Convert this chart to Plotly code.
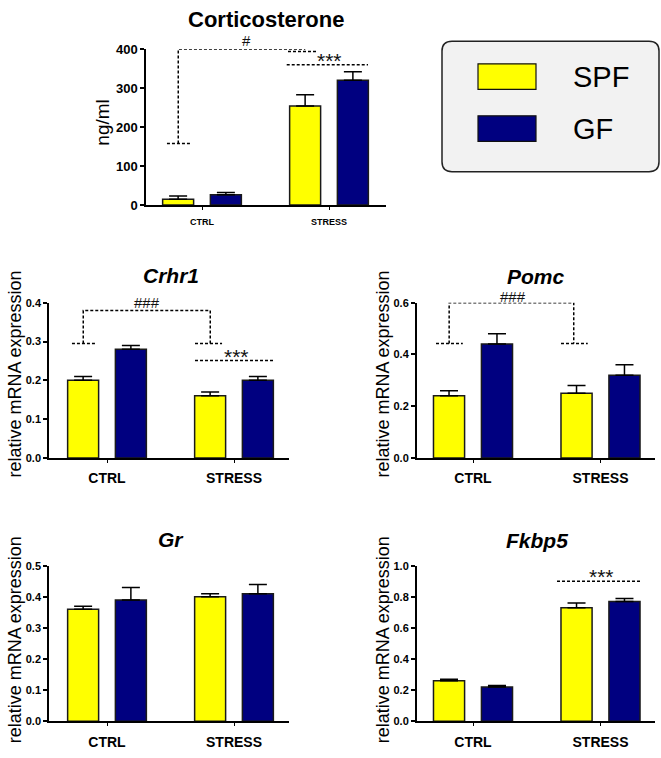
import plotly.graph_objects as go

W, H = 661, 758

categories = ["CTRL", "STRESS"]
groups = ["SPF", "GF"]
colors = ["#ffff00", "#000080"]

cort_spf = [15, 254]
cort_spf_err = [8, 29]
cort_gf = [26, 320]
cort_gf_err = [6, 22]

crhr1_spf = [0.20, 0.16]
crhr1_spf_err = [0.01, 0.01]
crhr1_gf = [0.28, 0.20]
crhr1_gf_err = [0.01, 0.01]

pomc_spf = [0.24, 0.25]
pomc_spf_err = [0.02, 0.03]
pomc_gf = [0.44, 0.32]
pomc_gf_err = [0.04, 0.04]

gr_spf = [0.36, 0.40]
gr_spf_err = [0.01, 0.01]
gr_gf = [0.39, 0.41]
gr_gf_err = [0.04, 0.03]

fkbp5_spf = [0.26, 0.73]
fkbp5_spf_err = [0.01, 0.03]
fkbp5_gf = [0.22, 0.77]
fkbp5_gf_err = [0.01, 0.02]

# significance marks: (label, x, y)
cort_marks = [("#", 0.35, 422), ("***", 1.0, 360)]
crhr1_marks = [("###", 0.315, 0.4), ("***", 1.02, 0.251)]
pomc_marks = [("###", 0.31, 0.625)]
fkbp5_marks = [("***", 1.01, 0.9)]


def px_x(x):
    return x / W


def px_y(y):
    return 1 - y / H


panels = [
    # title, spf, spf_err, gf, gf_err, x px, ctrl px, px/unit, y px, ymax, dtick, fmt, tick font, cat font, italic
    ("Corticosterone", cort_spf, cort_spf_err, cort_gf, cort_gf_err, (146, 386), 202, 127, (43, 202), 400, 100, "d", 13, 9, False),
    ("Crhr1", crhr1_spf, crhr1_spf_err, crhr1_gf, crhr1_gf_err, (49, 289), 107, 127, (301.7, 460), 0.4, 0.1, ".1f", 11, 14, True),
    ("Pomc", pomc_spf, pomc_spf_err, pomc_gf, pomc_gf_err, (416.7, 655), 473, 127.5, (301.7, 460), 0.6, 0.2, ".1f", 11, 14, True),
    ("Gr", gr_spf, gr_spf_err, gr_gf, gr_gf_err, (49, 289), 107, 127, (570, 728.7), 0.5, 0.1, ".1f", 11, 14, True),
    ("Fkbp5", fkbp5_spf, fkbp5_spf_err, fkbp5_gf, fkbp5_gf_err, (416.7, 655), 473, 127.5, (570, 728.7), 1.0, 0.2, ".1f", 11, 14, True),
]


def to_paper(idx, x, y):
    p = panels[idx]
    cpx, unit, yr, ymax = p[6], p[7], p[8], p[9]
    px = cpx + x * unit
    py = yr[1] - y / ymax * (yr[1] - yr[0])
    return px_x(px), px_y(py)


FONT = "Arial, Liberation Sans, sans-serif"
fig = go.Figure()
layout = {}
annotations = []
BAR_W = 0.244
offsets = [-0.31, 0.066]

for i, (title, spf, spf_err, gf, gf_err, xr, cpx, unit, yr, ymax, dtick, fmt, tfs, cfs, ital) in enumerate(panels):
    n = "" if i == 0 else str(i + 1)
    for g, (vals, errs) in enumerate([(spf, spf_err), (gf, gf_err)]):
        fig.add_trace(go.Bar(
            x=[0, 1], y=vals, name=groups[g], width=BAR_W, offset=offsets[g],
            marker=dict(color=colors[g], line=dict(color="#1a1a1a", width=1.5)),
            error_y=dict(type="data", symmetric=False, array=errs, arrayminus=[0, 0],
                         color="black", thickness=1.5, width=9),
            xaxis="x" + n, yaxis="y" + n, showlegend=False,
        ))
    layout["xaxis" + n] = dict(
        domain=[px_x(xr[0]), px_x(xr[1])], anchor="y" + n,
        range=[(xr[0] - cpx) / unit, (xr[1] - cpx) / unit],
        tickvals=[0, 1], ticktext=categories, showline=True, linecolor="black", linewidth=1.5,
        ticks="outside", ticklen=3, tickwidth=1, tickcolor="black", showgrid=False, zeroline=False,
        tickfont=dict(family=FONT, size=cfs, color="black", weight="bold"), ticklabelstandoff=4,
    )
    layout["yaxis" + n] = dict(
        domain=[px_y(yr[1]), px_y(yr[0])], anchor="x" + n, range=[0, ymax], dtick=dtick, tickformat=fmt,
        showline=True, linecolor="black", linewidth=1.5, ticks="outside", ticklen=4, tickwidth=1.5,
        tickcolor="black", showgrid=False, zeroline=False,
        tickfont=dict(family=FONT, size=tfs, color="black", weight="bold"),
    )

# titles
title_pos = [(266, 13, 22), (171, 274, 21), (536, 275, 21), (171, 543, 21), (537, 544, 21)]
for p, (cx, cy, fs) in zip(panels, title_pos):
    txt = "<b><i>%s</i></b>" % p[0] if p[-1] else "<b>%s</b>" % p[0]
    annotations.append(dict(text=txt, x=px_x(cx), y=px_y(cy), xref="paper", yref="paper",
                            showarrow=False, xanchor="center", yanchor="middle",
                            font=dict(family=FONT, size=fs, color="black")))

# y axis titles
ylab = [("ng/ml", 103, 118, 19), ("relative mRNA expression", 15, 375, 18),
        ("relative mRNA expression", 383, 375, 18), ("relative mRNA expression", 15, 646, 18),
        ("relative mRNA expression", 383, 646, 18)]
for t, cx, cy, fs in ylab:
    annotations.append(dict(text=t, x=px_x(cx), y=px_y(cy), xref="paper", yref="paper", textangle=-90,
                            showarrow=False, xanchor="center", yanchor="middle",
                            font=dict(family=FONT, size=fs, color="black")))

# dashed significance brackets
brackets = {
    "": [[(-0.187, 158), (-0.187, 400), (0.813, 400)], [(-0.276, 158), (-0.094, 158)],
         [(0.677, 394), (0.906, 394)], [(0.667, 360), (1.307, 360)]],
    "2": [[(-0.187, 0.295), (-0.187, 0.38), (0.813, 0.38), (0.813, 0.295)],
          [(-0.276, 0.295), (-0.094, 0.295)], [(0.693, 0.295), (0.906, 0.295)],
          [(0.693, 0.251), (1.307, 0.251)]],
    "3": [[(-0.187, 0.442), (-0.187, 0.6), (0.79, 0.6), (0.79, 0.442)],
          [(-0.29, 0.442), (-0.08, 0.442)], [(0.69, 0.442), (0.9, 0.442)]],
    "5": [[(0.659, 0.9), (1.31, 0.9)]],
}
for n, segs in brackets.items():
    xs, ys = [], []
    for seg in segs:
        xs += [p[0] for p in seg] + [None]
        ys += [p[1] for p in seg] + [None]
    fig.add_trace(go.Scatter(x=xs, y=ys, mode="lines", line=dict(color="black", width=1.5, dash="3px,2px"),
                             xaxis="x" + n, yaxis="y" + n, showlegend=False, hoverinfo="skip",
                             cliponaxis=False))

for idx, marks in [(0, cort_marks), (1, crhr1_marks), (2, pomc_marks), (4, fkbp5_marks)]:
    for label, x, y in marks:
        star = label.startswith("*")
        ax_, ay_ = to_paper(idx, x, y)
        annotations.append(dict(text=label, x=ax_, y=ay_, xref="paper", yref="paper", showarrow=False,
                                xanchor="center", yanchor="bottom" if star else "middle",
                                yshift=-9 if star else 0,
                                font=dict(family=FONT, size=21 if star else 15, color="#111")))

# legend box
r = 10
x0, x1, y0, y1 = 442, 659, 35, 168
path = (f"M {px_x(x0 + r)} {px_y(y0)} L {px_x(x1 - r)} {px_y(y0)} Q {px_x(x1)} {px_y(y0)} {px_x(x1)} {px_y(y0 + r)} "
        f"L {px_x(x1)} {px_y(y1 - r)} Q {px_x(x1)} {px_y(y1)} {px_x(x1 - r)} {px_y(y1)} "
        f"L {px_x(x0 + r)} {px_y(y1)} Q {px_x(x0)} {px_y(y1)} {px_x(x0)} {px_y(y1 - r)} "
        f"L {px_x(x0)} {px_y(y0 + r)} Q {px_x(x0)} {px_y(y0)} {px_x(x0 + r)} {px_y(y0)} Z")
shapes = [dict(type="path", path=path, xref="paper", yref="paper", fillcolor="#f2f2f2",
               line=dict(color="#222", width=1.5))]
for g, (sy0, sy1) in enumerate([(58, 84), (111, 137)]):
    shapes.append(dict(type="rect", xref="paper", yref="paper", x0=px_x(478), x1=px_x(536),
                       y0=px_y(sy1), y1=px_y(sy0), fillcolor=colors[g], line=dict(color="#111", width=1.2)))
    annotations.append(dict(text=groups[g], x=px_x(571), y=px_y((sy0 + sy1) / 2), xref="paper", yref="paper",
                            showarrow=False, xanchor="left", yanchor="middle",
                            font=dict(family=FONT, size=29, color="black")))

fig.update_layout(
    width=W, height=H, margin=dict(l=0, r=0, t=0, b=0), paper_bgcolor="white", plot_bgcolor="white",
    barmode="overlay", annotations=annotations, shapes=shapes, **layout,
)
# drop the browser's default 8px body margin so the figure sits flush in the window
fig.write_html("out.html", config={"displayModeBar": False},
               post_script="document.body.style.margin = '0';")
